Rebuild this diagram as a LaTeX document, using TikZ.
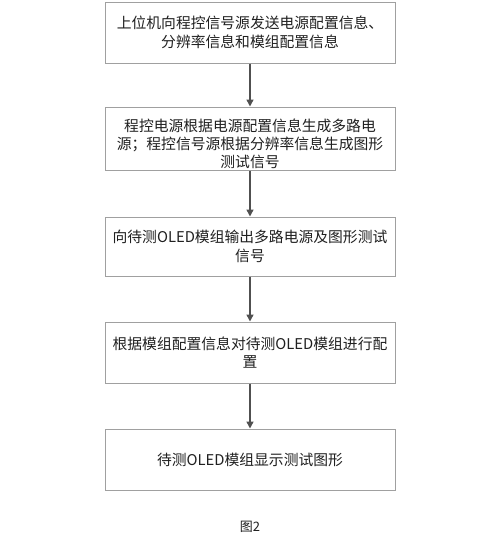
\documentclass[tikz,border=0pt]{standalone}
\usepackage{fontspec}
\setmainfont{Noto Sans CJK SC}
\usetikzlibrary{arrows.meta}
\definecolor{boxline}{HTML}{A0A0A0}
\definecolor{arrowc}{HTML}{505050}
\definecolor{txt}{HTML}{202020}
\begin{document}
\begin{tikzpicture}[x=1pt,y=-1pt,
  stepbox/.style={draw=boxline, line width=1pt, minimum width=290pt, inner sep=0pt,
    align=center, text=txt, font=\fontsize{14.8}{18.5}\selectfont},
  flow/.style={draw=arrowc, line width=1.5pt, -{Triangle[length=7pt,width=7pt]}}]
\useasboundingbox[fill=white] (0,0) rectangle (500,541);
\node[stepbox, minimum height=61pt] (b1) at (250,32.5) {上位机向程控信号源发送电源配置信息、\\分辨率信息和模组配置信息};
\node[stepbox, minimum height=63pt] (b2) at (250,138.5) {};
\node[text=txt, align=center, inner sep=0pt, font=\fontsize{14.8}{18}\selectfont] (t2) at (250,144) {程控电源根据电源配置信息生成多路电\\源；程控信号源根据分辨率信息生成图形\\测试信号};
\node[stepbox, minimum height=59pt] (b3) at (250,246.5) {向待测OLED模组输出多路电源及图形测试\\信号};
\node[stepbox, minimum height=61pt] (b4) at (250,352.5) {根据模组配置信息对待测OLED模组进行配\\置};
\node[stepbox, minimum height=61pt] (b5) at (250,459.5) {待测OLED模组显示测试图形};
\node[text=txt, font=\fontsize{13}{15}\selectfont] (cap) at (250,527) {图2};
\draw[flow] (b1) -- (b2);
\draw[flow] (b2) -- (b3);
\draw[flow] (b3) -- (b4);
\draw[flow] (b4) -- (b5);
\end{tikzpicture}
\end{document}
